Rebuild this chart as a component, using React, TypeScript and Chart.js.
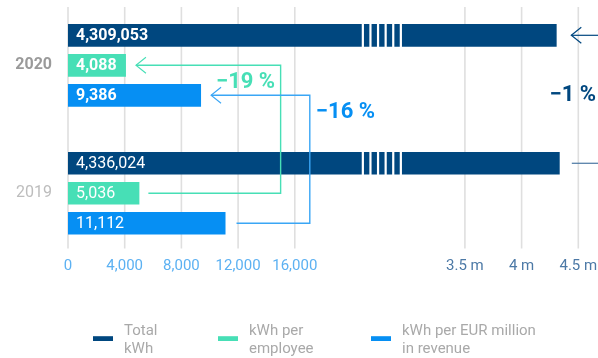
import React, { useEffect, useRef } from 'react';
import { Chart, registerables, LinearScale } from 'chart.js';

Chart.register(...registerables);

// ---- data ----
const years = ['2020', '2019'];
const totalKwh = [4309053, 4336024];
const kwhPerEmployee = [4088, 5036];
const kwhPerRevenue = [9386, 11112];
const seriesNames = [
  ['Total', 'kWh'],
  ['kWh per', 'employee'],
  ['kWh per EUR million', 'in revenue'],
];
const lowTicks = [0, 4000, 8000, 12000, 16000];
const highTicks = [3500000, 4000000, 4500000];
const highTickLabels = ['3.5 m', '4 m', '4.5 m'];
const changeLabels = ['\u22121 %', '\u221219 %', '\u221216 %'];

// ---- style ----
const NAVY = '#00477f';
const TEAL = '#47dfb6';
const BLUE = '#068ff3';
const FONT = 'Roboto';

// ---- broken axis mapping (value -> step units) ----
const LOW_STEP = 4000;
const HIGH_START = 3500000;
const HIGH_STEP = 500000;
const LOW_END_STEP = 4;
const HIGH_START_STEP = 7;
const MAX_STEP = 9;

function toStep(v: number | null): number {
  if (v === null || v === undefined || isNaN(v as number)) return NaN;
  const lowEnd = LOW_STEP * LOW_END_STEP;
  if (v <= lowEnd) return v / LOW_STEP;
  if (v >= HIGH_START) return HIGH_START_STEP + (v - HIGH_START) / HIGH_STEP;
  return LOW_END_STEP + ((HIGH_START_STEP - LOW_END_STEP) * (v - lowEnd)) / (HIGH_START - lowEnd);
}
function fromStep(s: number): number {
  const lowEnd = LOW_STEP * LOW_END_STEP;
  if (s <= LOW_END_STEP) return s * LOW_STEP;
  if (s >= HIGH_START_STEP) return HIGH_START + (s - HIGH_START_STEP) * HIGH_STEP;
  return lowEnd + ((s - LOW_END_STEP) * (HIGH_START - lowEnd)) / (HIGH_START_STEP - LOW_END_STEP);
}

class BrokenScale extends LinearScale {
  static id = 'broken';
  static defaults = {};
  determineDataLimits() {
    (this as any).min = 0;
    (this as any).max = MAX_STEP;
  }
  buildTicks() {
    return [...lowTicks, ...highTicks].map((value) => ({ value }));
  }
  getPixelForValue(value: any) {
    return super.getPixelForValue(toStep(value));
  }
  getValueForPixel(pixel: number) {
    return fromStep(super.getValueForPixel(pixel) as number);
  }
}
Chart.register(BrokenScale as any);

function fmt(n: number) {
  return n.toLocaleString('en-US');
}

function arrowHead(ctx: CanvasRenderingContext2D, x: number, y: number) {
  ctx.beginPath();
  ctx.moveTo(x + 10, y - 8);
  ctx.lineTo(x, y);
  ctx.lineTo(x + 10, y + 8);
  ctx.stroke();
}

const decorPlugin = {
  id: 'decor',
  beforeDatasetsDraw(chart: any) {
    const { ctx, scales } = chart;
    const x = scales.x;
    ctx.save();
    ctx.strokeStyle = '#dfdfdf';
    ctx.lineWidth = 1.6;
    x.ticks.forEach((_t: any, i: number) => {
      const px = x.getPixelForTick(i);
      ctx.beginPath();
      ctx.moveTo(px, 7);
      ctx.lineTo(px, 248.5);
      ctx.stroke();
    });
    ctx.restore();
  },
  afterDatasetsDraw(chart: any) {
    const { ctx, scales, chartArea } = chart;
    const x = scales.x;
    const W = chart.width;
    const metaT = chart.getDatasetMeta(0);
    const metaE = chart.getDatasetMeta(1);
    const metaR = chart.getDatasetMeta(2);
    ctx.save();

    // break stripes on total bars
    const gapMid = (x.getPixelForValue(LOW_STEP * LOW_END_STEP) + x.getPixelForValue(HIGH_START)) / 2 + 2;
    ctx.fillStyle = '#ffffff';
    metaT.data.forEach((bar: any) => {
      for (let i = 0; i < 6; i++) {
        const sx = gapMid + (i - 2.5) * 7.6 - 1.1;
        ctx.fillRect(sx, bar.y - bar.height / 2 - 0.5, 2.2, bar.height + 1);
      }
    });

    // value labels inside bars
    ctx.fillStyle = '#ffffff';
    ctx.textBaseline = 'middle';
    ctx.textAlign = 'left';
    const allData = [totalKwh, kwhPerEmployee, kwhPerRevenue];
    [metaT, metaE, metaR].forEach((meta: any, di: number) => {
      meta.data.forEach((bar: any, i: number) => {
        ctx.font = (i === 0 ? 'bold ' : '') + '16px ' + FONT;
        ctx.fillText(fmt(allData[di][i]), bar.base + 8, bar.y + 0.5);
      });
    });

    ctx.lineWidth = 1.4;
    // teal connector (per employee)
    const e20 = metaE.data[0];
    const e19 = metaE.data[1];
    const xT = x.getPixelForValue(15000);
    ctx.strokeStyle = TEAL;
    ctx.beginPath();
    ctx.moveTo(e19.x + 9, e19.y);
    ctx.lineTo(xT, e19.y);
    ctx.lineTo(xT, e20.y);
    ctx.lineTo(e20.x + 10, e20.y);
    ctx.stroke();
    ctx.lineWidth = 1.1;
    arrowHead(ctx, e20.x + 10, e20.y);

    // blue connector (per revenue)
    const r20 = metaR.data[0];
    const r19 = metaR.data[1];
    const xB = x.getPixelForValue(LOW_STEP * LOW_END_STEP) + 15;
    ctx.lineWidth = 1.4;
    ctx.strokeStyle = '#3aa6f5';
    ctx.beginPath();
    ctx.moveTo(r19.x + 11, r19.y);
    ctx.lineTo(xB, r19.y);
    ctx.lineTo(xB, r20.y);
    ctx.lineTo(r20.x + 10, r20.y);
    ctx.stroke();
    ctx.lineWidth = 1.1;
    arrowHead(ctx, r20.x + 10, r20.y);

    // navy arrow / line on the right
    const t20 = metaT.data[0];
    const t19 = metaT.data[1];
    const tipX = chartArea.right - 7;
    ctx.strokeStyle = NAVY;
    ctx.lineWidth = 1.2;
    ctx.beginPath();
    ctx.moveTo(tipX, t20.y);
    ctx.lineTo(W, t20.y);
    ctx.stroke();
    arrowHead(ctx, tipX, t20.y);
    ctx.strokeStyle = '#4a77a3';
    ctx.beginPath();
    ctx.moveTo(tipX + 0.5, t19.y);
    ctx.lineTo(W, t19.y);
    ctx.stroke();

    // change labels
    ctx.font = 'bold 22px ' + FONT;
    ctx.textBaseline = 'alphabetic';
    ctx.fillStyle = TEAL;
    ctx.textAlign = 'right';
    ctx.fillText(changeLabels[1], xT - 5.5, e20.y + 23);
    ctx.fillStyle = BLUE;
    ctx.textAlign = 'left';
    ctx.fillText(changeLabels[2], xB + 6, r20.y + 23);
    ctx.fillStyle = NAVY;
    ctx.textAlign = 'right';
    ctx.fillText(changeLabels[0], W - 2, (t20.y + t19.y) / 2 + 1.4);

    ctx.restore();
  },
  afterDraw(chart: any) {
    const { ctx } = chart;
    ctx.save();
    const colors = [NAVY, TEAL, BLUE];
    const swatchX = [93, 218, 371];
    ctx.font = '15px ' + FONT;
    ctx.textAlign = 'left';
    ctx.textBaseline = 'alphabetic';
    seriesNames.forEach((lines, i) => {
      ctx.fillStyle = colors[i];
      ctx.fillRect(swatchX[i], 336.2, 20, 4.8);
      ctx.fillStyle = '#a9a9a9';
      lines.forEach((ln, j) => {
        ctx.fillText(ln, swatchX[i] + 31, 335 + j * 18.3);
      });
    });
    ctx.restore();
  },
};

export default function App() {
  const ref = useRef<HTMLCanvasElement | null>(null);
  useEffect(() => {
    if (!ref.current) return;
    Chart.defaults.font.family = FONT;
    const chart = new Chart(ref.current, {
      type: 'bar',
      data: {
        labels: years,
        datasets: [
          { label: seriesNames[0].join(' '), data: totalKwh, backgroundColor: NAVY },
          { label: seriesNames[1].join(' '), data: kwhPerEmployee, backgroundColor: TEAL },
          { label: seriesNames[2].join(' '), data: kwhPerRevenue, backgroundColor: BLUE },
        ],
      },
      options: {
        indexAxis: 'y',
        animation: false,
        responsive: true,
        maintainAspectRatio: false,
        datasets: {
          bar: { barPercentage: 0.757, categoryPercentage: 0.703, borderWidth: 0 },
        },
        layout: { padding: { top: 1.3, right: 19.7, bottom: 0, left: 0 } },
        plugins: { legend: { display: false }, tooltip: { enabled: false } },
        scales: {
          x: {
            type: 'broken' as any,
            position: 'bottom',
            grid: { display: false, drawTicks: false },
            border: { display: false },
            afterFit: (s: any) => {
              s.height = 100.75;
              s.paddingLeft = 0;
              s.paddingRight = 0;
            },
            ticks: {
              autoSkip: false,
              maxRotation: 0,
              padding: 0,
              font: { size: 15, family: FONT },
              color: (c: any) => (c.tick && c.tick.value >= HIGH_START ? '#4c79a6' : '#5cb1f2'),
              callback: (v: any) => {
                const hi = highTicks.indexOf(v);
                return hi >= 0 ? highTickLabels[hi] : fmt(v);
              },
            },
          },
          y: {
            type: 'category',
            grid: { display: false, drawTicks: false },
            border: { display: false },
            afterFit: (s: any) => {
              s.width = 68;
              s.paddingTop = 0;
              s.paddingBottom = 0;
            },
            ticks: {
              padding: 16,
              color: (c: any) => (c.index === 0 ? '#9a9a9a' : '#bdbdbd'),
              font: (c: any) => ({ size: 16, family: FONT, weight: c.index === 0 ? 'bold' : 'normal' }),
            },
          },
        },
      },
      plugins: [decorPlugin],
    } as any);
    return () => chart.destroy();
  }, []);
  return (
    <div style={{ position: 'fixed', left: 0, top: 0, width: 598, height: 358 }}>
      <canvas ref={ref} />
    </div>
  );
}
